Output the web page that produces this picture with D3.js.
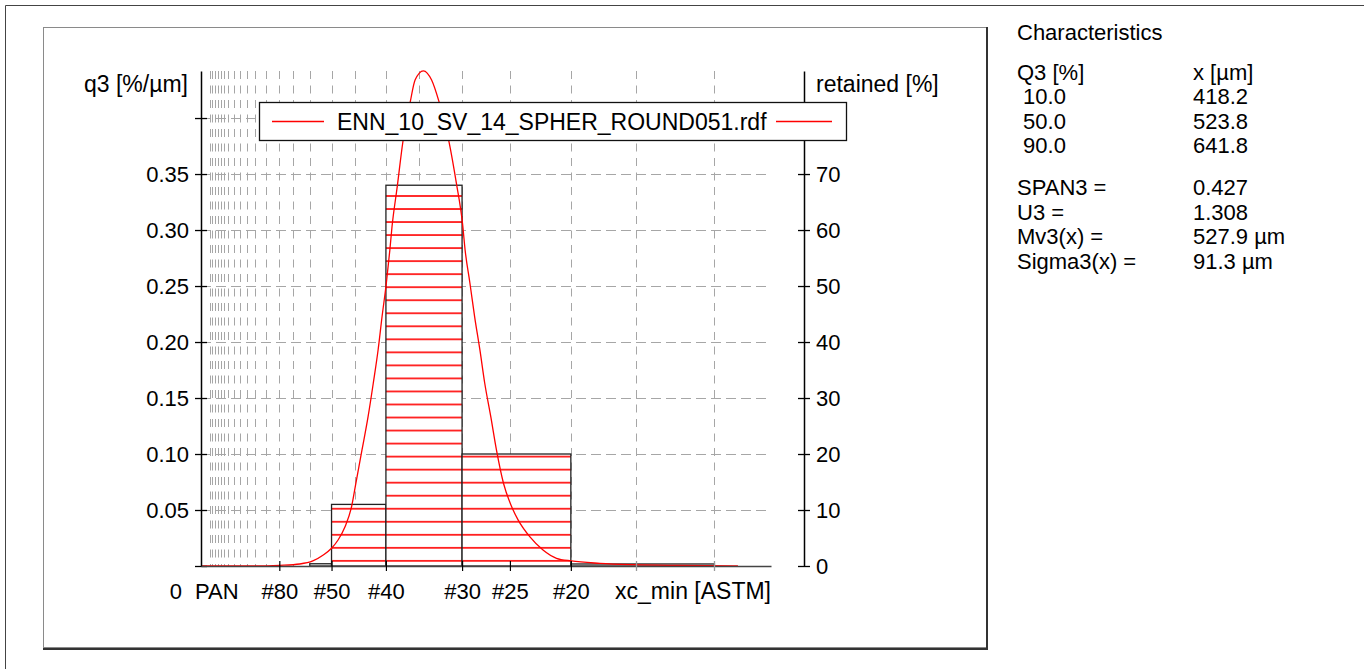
<!DOCTYPE html>
<html>
<head>
<meta charset="utf-8">
<script src="https://cdn.jsdelivr.net/npm/d3@7"></script>
<style>
  body { margin: 0; background: #fff; }
  text { font-family: "Liberation Sans", Arial, sans-serif; font-size: 22px; fill: #000; }
  .title { font-size: 23px; }
</style>
</head>
<body>
<script>
// Histogram classes (sieve edges in µm) and q3 density [%/µm]
const binEdges = [250, 300, 425, 600, 850, 1180];
const binQ3 = [0.002, 0.055, 0.340, 0.100, 0.0018];

// Fitted density curve
const curveSize = [0, 128, 181, 227, 257, 281, 300, 315, 331, 346,
                   356, 370, 384, 396, 407, 416, 426, 434, 439, 451,
                   464, 481, 492, 511, 530, 547, 570, 587, 601, 607,
                   618, 629, 641, 652, 666, 679, 695, 714, 729, 756,
                   786, 817, 851, 917, 992, 1100, 1234];
const curveQ3 = [0, 0, 0.0006, 0.0018, 0.0045, 0.0098, 0.0158, 0.0232, 0.0351, 0.0529,
                 0.0741, 0.1036, 0.1333, 0.1634, 0.1929, 0.2223, 0.2527, 0.2821, 0.3029, 0.3387,
                 0.3788, 0.4146, 0.4339, 0.4422, 0.4339, 0.4146, 0.3788, 0.3417, 0.3060, 0.2821,
                 0.2527, 0.2223, 0.1929, 0.1634, 0.1333, 0.1036, 0.0741, 0.0529, 0.0410, 0.0260,
                 0.0143, 0.0069, 0.0045, 0.0024, 0.0012, 0.0005, 0];

// ASTM sieve series used for the vertical grid
const gridSizes = [20, 25, 32, 38, 45, 53, 63, 75, 90, 106, 125, 150, 180, 212,
                   250, 300, 355, 425, 500, 600, 710, 850, 1000, 1180];
const sieveLabels = ["PAN", "#80", "#50", "#40", "#30", "#25", "#20"];
const sieveSizes = [35, 180, 300, 425, 600, 710, 850];
const minorTicks = [1000, 1180];

const q3Ticks = [0, 0.05, 0.10, 0.15, 0.20, 0.25, 0.30, 0.35, 0.40];
const retainedTicks = [0, 10, 20, 30, 40, 50, 60, 70, 80];

const legendLabel = "ENN_10_SV_14_SPHER_ROUND051.rdf";

const charNames = ["Q3 [%]", " 10.0", " 50.0", " 90.0", "SPAN3 =", "U3 =", "Mv3(x) =", "Sigma3(x) ="];
const charValues = ["x [µm]", "418.2", "523.8", "641.8", "0.427", "1.308", "527.9 µm", "91.3 µm"];

const W = 1364, H = 669;
const font = "'Liberation Sans', Arial, sans-serif";

const svg = d3.select("body").append("svg")
    .attr("width", W)
    .attr("height", H);

const x = d3.scaleLinear().domain([0, 1310]).range([201, 771]);
const y = d3.scaleLinear().domain([0, 0.442]).range([566, 71]);
const yR = d3.scaleLinear().domain([0, 88.4]).range([566, 71]);

// frames
svg.append("path").attr("d", "M5.5,669V5.5H1364")
    .attr("fill", "none").attr("stroke", "#444");
svg.append("rect")
    .attr("x", 43.5).attr("y", 27.5).attr("width", 943).attr("height", 620)
    .attr("fill", "none").attr("stroke", "#8a8a8a");
svg.append("path").attr("d", "M987,27V649H43")
    .attr("fill", "none").attr("stroke", "#333").attr("stroke-width", 2);

// grid
const grid = svg.append("g").attr("stroke", "#a6a6a6").attr("stroke-width", 1);
grid.selectAll("line.v")
    .data(gridSizes)
    .join("line")
    .attr("class", "v")
    .attr("x1", d => Math.round(x(d)) + 0.5)
    .attr("x2", d => Math.round(x(d)) + 0.5)
    .attr("y1", y.range()[1])
    .attr("y2", y(0))
    .attr("stroke-dasharray", "8,6.5");
grid.selectAll("line.h")
    .data(q3Ticks.filter(d => d > 0))
    .join("line")
    .attr("class", "h")
    .attr("x1", x.range()[0])
    .attr("x2", x.range()[1])
    .attr("y1", d => Math.round(y(d)) + 0.5)
    .attr("y2", d => Math.round(y(d)) + 0.5)
    .attr("stroke-dasharray", "10,5");

// hatch pattern for the bars
const defs = svg.append("defs");
const pat = defs.append("pattern")
    .attr("id", "hatch")
    .attr("patternUnits", "userSpaceOnUse")
    .attr("x", 0).attr("y", 189.5)
    .attr("width", 8).attr("height", 13.03);
pat.append("rect").attr("width", 8).attr("height", 13.03).attr("fill", "#fff");
pat.append("line").attr("x1", 0).attr("x2", 8).attr("y1", 6.5).attr("y2", 6.5)
    .attr("stroke", "#ff0000").attr("stroke-width", 1.6);

// bars
svg.append("g")
    .selectAll("rect")
    .data(binQ3)
    .join("rect")
    .attr("x", (d, i) => x(binEdges[i]))
    .attr("width", (d, i) => x(binEdges[i + 1]) - x(binEdges[i]))
    .attr("y", d => y(d))
    .attr("height", d => y(0) - y(d))
    .attr("fill", "url(#hatch)")
    .attr("stroke", "#222")
    .attr("stroke-width", 1.3);

// density curve
const line = d3.line()
    .x(d => x(d[0]))
    .y(d => y(d[1]))
    .curve(d3.curveMonotoneX);
svg.append("path")
    .datum(curveSize.map((s, i) => [s, curveQ3[i]]))
    .attr("d", line)
    .attr("fill", "none")
    .attr("stroke", "#ff0000")
    .attr("stroke-width", 1.3);

// left axis
const axL = svg.append("g")
    .attr("transform", "translate(201,0)")
    .call(d3.axisLeft(y)
        .tickValues(q3Ticks)
        .tickSize(6)
        .tickPadding(6)
        .tickSizeOuter(0)
        .tickFormat(d => (d > 0 && d < 0.39) ? d3.format(".2f")(d) : ""));
axL.attr("font-size", 22).attr("font-family", font);
axL.selectAll(".tick line").attr("x1", 6).attr("stroke-width", 1.3);
axL.select(".domain").attr("stroke-width", 1.5);

// right axis
const axR = svg.append("g")
    .attr("transform", "translate(804,0)")
    .call(d3.axisRight(yR)
        .tickValues(retainedTicks)
        .tickSize(6)
        .tickPadding(6)
        .tickSizeOuter(0)
        .tickFormat(d => d < 75 ? d : ""));
axR.attr("font-size", 22).attr("font-family", font);
axR.selectAll(".tick line").attr("x1", -6).attr("stroke-width", 1.3);
axR.select(".domain").attr("stroke-width", 1.5);

// bottom axis
const axB = svg.append("g")
    .attr("transform", "translate(0,566)")
    .call(d3.axisBottom(x)
        .tickValues(sieveSizes)
        .tickSize(5)
        .tickPadding(12)
        .tickSizeOuter(0)
        .tickFormat((d, i) => sieveLabels[i]));
axB.attr("font-size", 22).attr("font-family", font);
axB.selectAll(".tick line")
    .attr("y1", -5)
    .attr("stroke-width", 1.2)
    .attr("stroke-opacity", (d, i) => sieveLabels[i] === "PAN" ? 0 : 1);
axB.select(".domain").attr("stroke", "#444").attr("stroke-width", 1.5);
axB.selectAll(".minor")
    .data(minorTicks)
    .join("line")
    .attr("class", "minor")
    .attr("x1", d => Math.round(x(d)) + 0.5)
    .attr("x2", d => Math.round(x(d)) + 0.5)
    .attr("y1", -5).attr("y2", 5)
    .attr("stroke", "#999").attr("stroke-width", 1.3);

// axis titles
svg.append("text").attr("class", "title").attr("x", 188).attr("y", 92).attr("text-anchor", "end").text("q3 [%/µm]");
svg.append("text").attr("class", "title").attr("x", 816).attr("y", 92).text("retained [%]");
svg.append("text").attr("class", "title").attr("x", 771).attr("y", 598.5).attr("text-anchor", "end").text("xc_min [ASTM]");
svg.append("text").attr("x", 182).attr("y", 598.5).attr("text-anchor", "end").text("0");

// legend
const lg = svg.append("g");
lg.append("rect")
    .attr("x", 259.5).attr("y", 102.5).attr("width", 587).attr("height", 38)
    .attr("fill", "#fff").attr("stroke", "#111").attr("stroke-width", 1.3);
lg.append("line").attr("x1", 272).attr("x2", 324).attr("y1", 121.5).attr("y2", 121.5)
    .style("stroke", "#ff0000").style("stroke-width", "1.5px");
lg.append("text").attr("class", "title").attr("x", 337).attr("y", 129.5).text(legendLabel);
lg.append("line").attr("x1", 776).attr("x2", 832).attr("y1", 121.5).attr("y2", 121.5)
    .style("stroke", "#ff0000").style("stroke-width", "1.5px");

// characteristics panel
const panel = svg.append("g");
panel.append("text").attr("x", 1017).attr("y", 39.5).text("Characteristics");
const rowY = [80, 104, 128.5, 152.5, 195, 219.5, 244, 268.5];
panel.selectAll("text.n")
    .data(charNames)
    .join("text")
    .attr("class", "n")
    .attr("x", 1017)
    .attr("y", (d, i) => rowY[i])
    .style("white-space", "pre")
    .text(d => d);
panel.selectAll("text.v")
    .data(charValues)
    .join("text")
    .attr("class", "v")
    .attr("x", 1193)
    .attr("y", (d, i) => rowY[i])
    .text(d => d);
</script>
</body>
</html>
